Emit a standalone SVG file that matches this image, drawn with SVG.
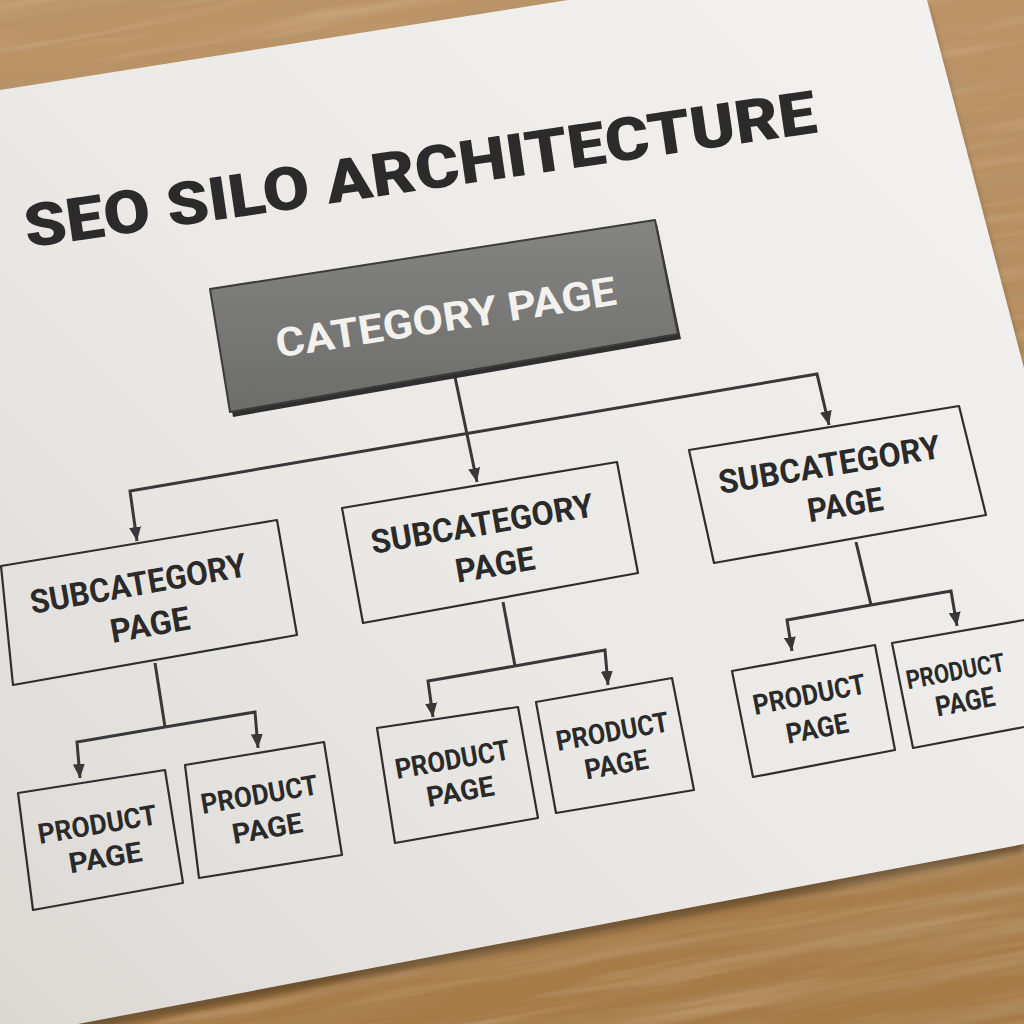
<svg xmlns="http://www.w3.org/2000/svg" width="1024" height="1024" viewBox="0 0 1024 1024">
<defs>
  <style>
    .conn{fill:none;stroke:#383838;stroke-width:3;stroke-linejoin:miter}
    .box{fill:none;stroke:#2e2e2e;stroke-width:2.2;stroke-linejoin:round}
    .lbl{font-family:Roboto,"Liberation Sans",sans-serif;font-weight:700;fill:#2a2a2a;text-anchor:middle}
    .title{font-size:60px;font-weight:900;fill:#2b2b2b}
    .cat{font-size:40px;fill:#f2f1ee}
    .sub{font-size:33px}
    .prod{font-size:28px}
  </style>
  <linearGradient id="woodBase" x1="0" y1="0" x2="0" y2="1">
    <stop offset="0" stop-color="#bc9467"/>
    <stop offset="1" stop-color="#a57a47"/>
  </linearGradient>
  <filter id="grainDark" filterUnits="userSpaceOnUse" x="-300" y="-300" width="1700" height="1700">
    <feTurbulence type="fractalNoise" baseFrequency="0.003 0.05" numOctaves="4" seed="7"/>
    <feColorMatrix type="matrix" values="0 0 0 0 0.45  0 0 0 0 0.30  0 0 0 0 0.15  1.6 0 0 0 -0.7"/>
  </filter>
  <filter id="grainLight" filterUnits="userSpaceOnUse" x="-300" y="-300" width="1700" height="1700">
    <feTurbulence type="fractalNoise" baseFrequency="0.004 0.07" numOctaves="3" seed="21"/>
    <feColorMatrix type="matrix" values="0 0 0 0 0.80  0 0 0 0 0.66  0 0 0 0 0.48  1.4 0 0 0 -0.65"/>
  </filter>
  <filter id="soft" x="-0.1" y="-0.1" width="1.2" height="1.2">
    <feGaussianBlur stdDeviation="3"/>
  </filter>
  <linearGradient id="paperG" x1="1" y1="0" x2="0" y2="1">
    <stop offset="0" stop-color="#f3f2f0"/>
    <stop offset="0.55" stop-color="#ebe9e6"/>
    <stop offset="1" stop-color="#dcd9d5"/>
  </linearGradient>
  <linearGradient id="catG" x1="0" y1="0" x2="0" y2="1">
    <stop offset="0" stop-color="#848482"/>
    <stop offset="1" stop-color="#6d6d6b"/>
  </linearGradient>
  <marker id="arrow" viewBox="0 0 14 12" refX="14" refY="6" markerWidth="14" markerHeight="12" markerUnits="userSpaceOnUse" orient="auto">
    <path d="M0,0 L14,6 L0,12 z" fill="#383838"/>
  </marker>
</defs>

<!-- wooden table -->
<rect x="0" y="0" width="1024" height="1024" fill="url(#woodBase)"/>
<rect x="-300" y="-300" width="1700" height="1700" filter="url(#grainLight)" transform="rotate(-10 512 512)" opacity="0.5"/>
<rect x="-300" y="-300" width="1700" height="1700" filter="url(#grainDark)" transform="rotate(-10 512 512)" opacity="0.8"/>

<!-- paper -->
<polygon points="0,96 568,6 927,6 1024,374 1024,852 78,1032 0,1032" fill="#2a1a0a" opacity="0.45" filter="url(#soft)"/>
<polygon points="0,90 568,0 927,0 1024,368 1024,844 78,1024 0,1024" fill="url(#paperG)"/>

<text class="lbl title" x="423" y="190" textLength="800" lengthAdjust="spacingAndGlyphs" transform="rotate(-8.3 423 190)">SEO SILO ARCHITECTURE</text>

<g id="connectors">
  <path class="conn" d="M455,377 L477,482" marker-end="url(#arrow)"/>
  <path class="conn" d="M464,434 L130,491 L137,541" marker-end="url(#arrow)"/>
  <path class="conn" d="M464,434 L817,374 L829,425" marker-end="url(#arrow)"/>
  <path class="conn" d="M155,663 L165,727"/>
  <path class="conn" d="M165,727 L77,742 L80,778" marker-end="url(#arrow)"/>
  <path class="conn" d="M165,727 L255,712 L258,748" marker-end="url(#arrow)"/>
  <path class="conn" d="M503,602 L515,666"/>
  <path class="conn" d="M515,666 L428,681 L433,717" marker-end="url(#arrow)"/>
  <path class="conn" d="M515,666 L605,650 L608,685" marker-end="url(#arrow)"/>
  <path class="conn" d="M856,542 L871,605"/>
  <path class="conn" d="M871,605 L787,620 L792,651" marker-end="url(#arrow)"/>
  <path class="conn" d="M871,605 L951,591 L957,626" marker-end="url(#arrow)"/>
</g>

<g id="category">
  <polygon points="212,293 657,224 681,339 233,417" fill="#2f2f2f"/>
  <polygon points="210,289 655,220 678,334 230,412" fill="url(#catG)" stroke="#3c3c3c" stroke-width="2" stroke-linejoin="round"/>
  <text class="lbl cat" x="448" y="331" textLength="344" lengthAdjust="spacingAndGlyphs" transform="rotate(-8.9 448 331)">CATEGORY PAGE</text>
</g>

<g id="sub-left">
  <polygon class="box" points="1,566 277,520 297,635 13,685"/>
  <text class="lbl sub" x="140" y="595" textLength="219" lengthAdjust="spacingAndGlyphs" transform="rotate(-10 140 595)">SUBCATEGORY</text>
  <text class="lbl sub" x="152" y="636" textLength="80" lengthAdjust="spacingAndGlyphs" transform="rotate(-10 152 636)">PAGE</text>
</g>
<g id="sub-middle">
  <polygon class="box" points="342,508 617,462 638,573 363,623"/>
  <text class="lbl sub" x="484" y="535" textLength="225" lengthAdjust="spacingAndGlyphs" transform="rotate(-9.7 484 535)">SUBCATEGORY</text>
  <text class="lbl sub" x="497" y="576" textLength="80" lengthAdjust="spacingAndGlyphs" transform="rotate(-9.7 497 576)">PAGE</text>
</g>
<g id="sub-right">
  <polygon class="box" points="689,450 959,406 986,515 714,563"/>
  <text class="lbl sub" x="831" y="476" textLength="224" lengthAdjust="spacingAndGlyphs" transform="rotate(-9.3 831 476)">SUBCATEGORY</text>
  <text class="lbl sub" x="847" y="516" textLength="76" lengthAdjust="spacingAndGlyphs" transform="rotate(-9.3 847 516)">PAGE</text>
</g>

<g id="product-1">
  <polygon class="box" points="18,793 165,770 183,883 33,910"/>
  <text class="lbl prod" x="99" y="834" textLength="120" lengthAdjust="spacingAndGlyphs" transform="rotate(-9.6 99 834)">PRODUCT</text>
  <text class="lbl prod" x="107" y="867" textLength="74" lengthAdjust="spacingAndGlyphs" transform="rotate(-9.6 107 867)">PAGE</text>
</g>
<g id="product-2">
  <polygon class="box" points="185,765 324,742 342,855 199,878"/>
  <text class="lbl prod" x="261" y="804" textLength="118" lengthAdjust="spacingAndGlyphs" transform="rotate(-9.8 261 804)">PRODUCT</text>
  <text class="lbl prod" x="269" y="838" textLength="71" lengthAdjust="spacingAndGlyphs" transform="rotate(-9.8 269 838)">PAGE</text>
</g>
<g id="product-3">
  <polygon class="box" points="377,728 518,707 538,818 395,843"/>
  <text class="lbl prod" x="454" y="769" textLength="116" lengthAdjust="spacingAndGlyphs" transform="rotate(-10 454 769)">PRODUCT</text>
  <text class="lbl prod" x="462" y="801" textLength="68" lengthAdjust="spacingAndGlyphs" transform="rotate(-10 462 801)">PAGE</text>
</g>
<g id="product-4">
  <polygon class="box" points="536,702 672,678 694,790 556,813"/>
  <text class="lbl prod" x="614" y="741" textLength="114" lengthAdjust="spacingAndGlyphs" transform="rotate(-10.1 614 741)">PRODUCT</text>
  <text class="lbl prod" x="618" y="774" textLength="64" lengthAdjust="spacingAndGlyphs" transform="rotate(-10.1 618 774)">PAGE</text>
</g>
<g id="product-5">
  <polygon class="box" points="732,671 875,645 895,750 753,777"/>
  <text class="lbl prod" x="811" y="704" textLength="114" lengthAdjust="spacingAndGlyphs" transform="rotate(-11 811 704)">PRODUCT</text>
  <text class="lbl prod" x="819" y="738" textLength="63" lengthAdjust="spacingAndGlyphs" transform="rotate(-10.5 819 738)">PAGE</text>
</g>
<g id="product-6">
  <path class="box" d="M1024,620 L892,643 L913,748 L1024,727"/>
  <text class="lbl prod" x="957" y="680" font-size="26" textLength="100" lengthAdjust="spacingAndGlyphs" transform="rotate(-10.8 957 680)" style="font-size:26px">PRODUCT</text>
  <text class="lbl prod" x="967" y="711" textLength="60" lengthAdjust="spacingAndGlyphs" transform="rotate(-10.5 967 711)">PAGE</text>
</g>
</svg>
